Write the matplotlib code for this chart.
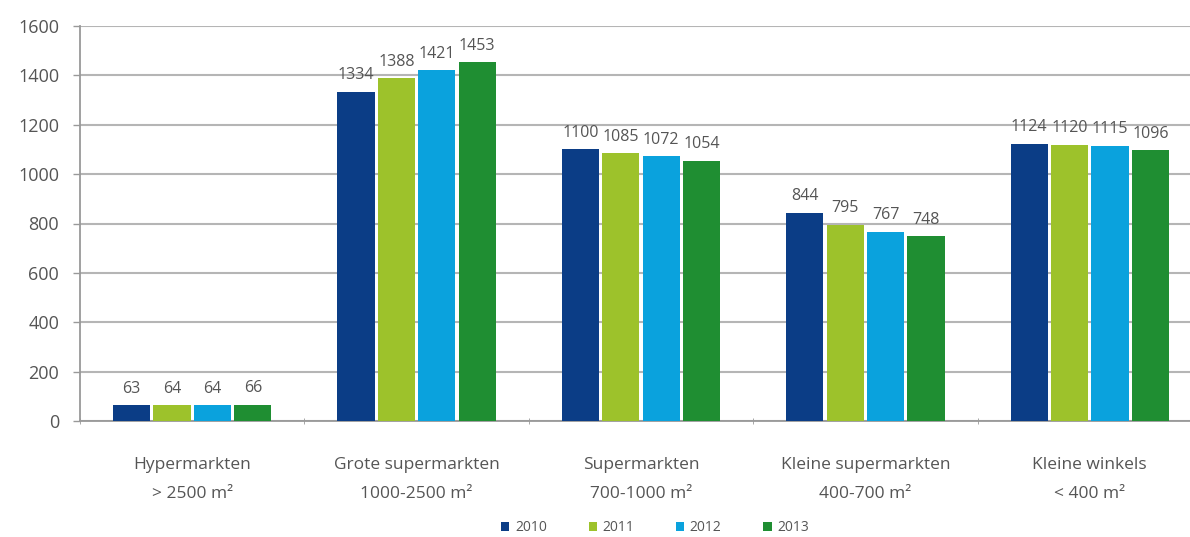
import matplotlib
matplotlib.use("Agg")
import matplotlib.pyplot as plt
import numpy as np

categories = ["Hypermarkten\n> 2500 m²", "Grote supermarkten\n1000-2500 m²",
              "Supermarkten\n700-1000 m²", "Kleine supermarkten\n400-700 m²",
              "Kleine winkels\n< 400 m²"]
years = ["2010", "2011", "2012", "2013"]
values = {
    "2010": [63, 1334, 1100, 844, 1124],
    "2011": [64, 1388, 1085, 795, 1120],
    "2012": [64, 1421, 1072, 767, 1115],
    "2013": [66, 1453, 1054, 748, 1096],
}
colors = ["#0b3d86", "#9dc22b", "#0aa2dd", "#1f8e32"]
yticks = [0, 200, 400, 600, 800, 1000, 1200, 1400, 1600]

plt.rcParams['font.family'] = ['Open Sans', 'DejaVu Sans']
fig = plt.figure(figsize=(11.9, 5.37), dpi=100)
ax = fig.add_axes([80/1190, 116/537, (1202-80)/1190, (421-26)/537])

x = np.arange(len(categories))
width = 0.165
step = 0.18
for i, (yr, c) in enumerate(zip(years, colors)):
    off = (i - 1.5) * step
    bars = ax.bar(x + off, values[yr], width=width, color=c, zorder=3, label=yr)
    for b, v in zip(bars, values[yr]):
        ax.annotate(str(v), (b.get_x() + b.get_width()/2, v), xytext=(0, 6),
                    textcoords="offset points", ha="center", va="bottom",
                    fontsize=11.5, color="#555555")

ax.set_ylim(0, 1600)
ax.set_xlim(-0.5, len(categories) - 0.5)
ax.set_yticks(yticks)
ax.tick_params(axis='y', labelsize=13, labelcolor="#555555", color="#999999",
               length=5, width=1, pad=10)
ax.yaxis.grid(True, color="#b5b5b5", linewidth=1.5, zorder=0)
ax.set_axisbelow(True)

ax.set_xticks(x)
ax.set_xticklabels(categories, fontsize=12.5, color="#555555", linespacing=2.1)
ax.tick_params(axis='x', length=0, pad=26)
ax.set_xticks(np.arange(-0.5, len(categories), 1.0), minor=True)
ax.tick_params(axis='x', which='minor', length=4, color="#999999", direction='inout')

for s in ["top", "right"]:
    ax.spines[s].set_visible(False)
for s in ["left", "bottom"]:
    ax.spines[s].set_color("#999999")
    ax.spines[s].set_linewidth(1.3)

leg = fig.legend(loc="lower center", bbox_to_anchor=(655/1190, -0.017), ncol=4,
                 frameon=False, fontsize=10, handlelength=0.6, handleheight=0.6,
                 columnspacing=3.0, handletextpad=0.4, borderpad=0.3)
for t in leg.get_texts():
    t.set_color("#555555")

fig.savefig("out.png", dpi=100)
